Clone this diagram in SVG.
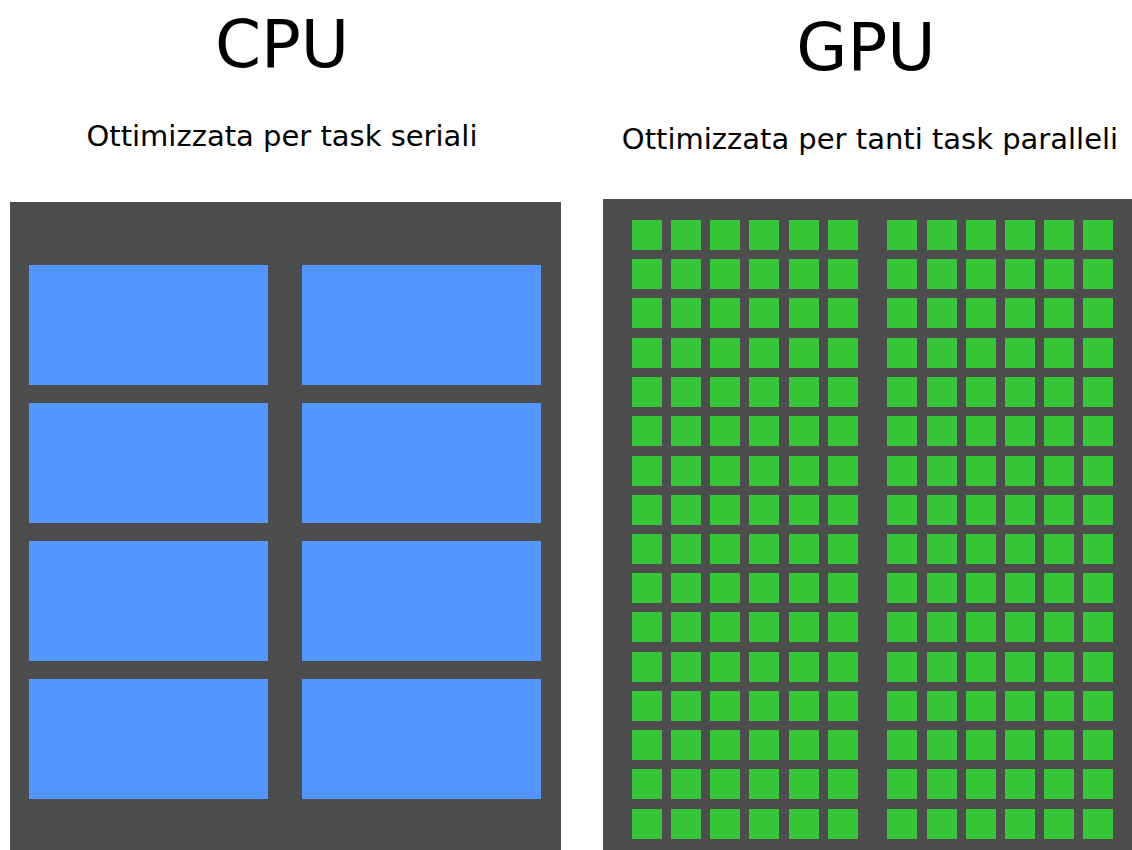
<svg xmlns="http://www.w3.org/2000/svg" width="1132" height="850" viewBox="0 0 1132 850">
  <style>
    .title { font-family: "DejaVu Sans", sans-serif; font-size: 66px; fill: #000; text-anchor: middle; }
    .sub { font-family: "DejaVu Sans", sans-serif; font-size: 29px; fill: #000; text-anchor: middle; }
    .die { fill: #4d4d4d; }
    .core { fill: #5297ff; }
    .sm { fill: #35c638; }
  </style>
  <defs>
    <rect id="sq" width="30" height="30" class="sm"/>
    <g id="row">
      <use href="#sq" x="632"/><use href="#sq" x="671"/><use href="#sq" x="710"/>
      <use href="#sq" x="749"/><use href="#sq" x="789"/><use href="#sq" x="828"/>
      <use href="#sq" x="887"/><use href="#sq" x="927"/><use href="#sq" x="966"/>
      <use href="#sq" x="1005"/><use href="#sq" x="1044"/><use href="#sq" x="1083"/>
    </g>
  </defs>
  <rect width="1132" height="850" fill="#fff"/>

  <!-- CPU: few large cores -->
  <g id="cpu">
    <text class="title" x="282" y="67">CPU</text>
    <text class="sub" x="282" y="146">Ottimizzata per task seriali</text>
    <rect class="die" x="10" y="202" width="551" height="648"/>
    <rect class="core" x="29" y="265" width="239" height="120"/>
    <rect class="core" x="302" y="265" width="239" height="120"/>
    <rect class="core" x="29" y="403" width="239" height="120"/>
    <rect class="core" x="302" y="403" width="239" height="120"/>
    <rect class="core" x="29" y="541" width="239" height="120"/>
    <rect class="core" x="302" y="541" width="239" height="120"/>
    <rect class="core" x="29" y="679" width="239" height="120"/>
    <rect class="core" x="302" y="679" width="239" height="120"/>
  </g>

  <!-- GPU: many small cores -->
  <g id="gpu">
    <text class="title" x="866" y="70">GPU</text>
    <text class="sub" x="870" y="149">Ottimizzata per tanti task paralleli</text>
    <rect class="die" x="603" y="199" width="529" height="651"/>
    <use href="#row" y="220"/>
    <use href="#row" y="259"/>
    <use href="#row" y="298"/>
    <use href="#row" y="338"/>
    <use href="#row" y="377"/>
    <use href="#row" y="416"/>
    <use href="#row" y="456"/>
    <use href="#row" y="495"/>
    <use href="#row" y="534"/>
    <use href="#row" y="573"/>
    <use href="#row" y="612"/>
    <use href="#row" y="652"/>
    <use href="#row" y="691"/>
    <use href="#row" y="730"/>
    <use href="#row" y="769"/>
    <use href="#row" y="809"/>
  </g>
</svg>
